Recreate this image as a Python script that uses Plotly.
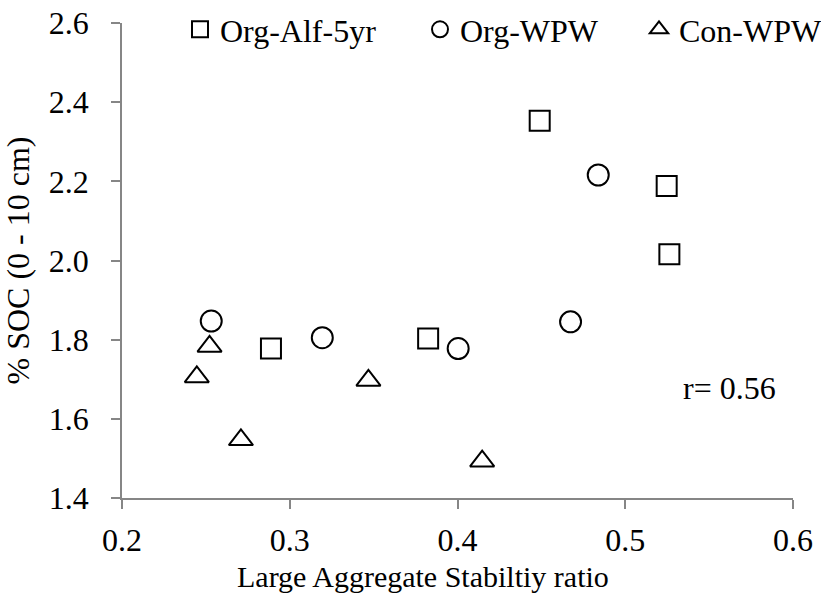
import plotly.graph_objects as go

# Data
sq_name = "Org-Alf-5yr"
sq_x = [0.449, 0.5247, 0.5263, 0.2888, 0.3825]
sq_y = [2.353, 2.188, 2.016, 1.7775, 1.803]

ci_name = "Org-WPW"
ci_x = [0.4839, 0.4674, 0.2532, 0.3194, 0.4004]
ci_y = [2.216, 1.845, 1.847, 1.805, 1.7775]

tr_name = "Con-WPW"
tr_x = [0.2522, 0.2446, 0.2709, 0.3469, 0.4147]
tr_y = [1.783, 1.706, 1.547, 1.697, 1.493]

x_ticks = [0.2, 0.3, 0.4, 0.5, 0.6]
y_ticks = [1.4, 1.6, 1.8, 2.0, 2.2, 2.4, 2.6]

x_title = "Large Aggregate Stabiltiy ratio"
y_title = "% SOC (0 - 10 cm)"
r_label = "r= 0.56"

FONT = "Liberation Serif"
FS = 32
AXC = "#868686"

fig = go.Figure()

def add(name, xs, ys, symbol, size, legend):
    fig.add_trace(go.Scatter(
        x=xs, y=ys, mode="markers", name=name, legend=legend,
        showlegend=True,
        marker=dict(symbol=symbol, size=size, color="white",
                    line=dict(color="black", width=2)),
    ))

add(sq_name, sq_x, sq_y, "square", 20, "legend")
add(ci_name, ci_x, ci_y, "circle", 21, "legend2")
add(tr_name, tr_x, tr_y, "triangle-up", 21, "legend3")

W, H = 821, 602
ml, mr, mt, mb = 122, 28, 23, 104
pw = W - ml - mr
ph = H - mt - mb

def lx(px):
    return (px - ml) / pw

def ly(py):
    return (H - mb - py) / ph

leg_common = dict(font=dict(family=FONT, size=FS, color="black"),
                  bgcolor="rgba(0,0,0,0)", borderwidth=0,
                  yanchor="top", xanchor="left", y=ly(2),
                  orientation="h", visible=True)

fig.update_layout(
    width=W, height=H,
    showlegend=True,
    margin=dict(l=ml, r=mr, t=mt, b=mb, autoexpand=False),
    paper_bgcolor="white", plot_bgcolor="white",
    font=dict(family=FONT, size=FS, color="black"),
    legend=dict(x=lx(180), **leg_common),
    legend2=dict(x=lx(420), **leg_common),
    legend3=dict(x=lx(639), **leg_common),
    xaxis=dict(range=[0.2, 0.6], tickvals=x_ticks, tickformat=".1f",
               showline=True, linecolor=AXC, linewidth=1.5,
               ticks="outside", ticklen=9, tickcolor=AXC, tickwidth=1.5,
               showgrid=False, zeroline=False, ticklabelstandoff=4,
               tickfont=dict(family=FONT, size=FS, color="black")),
    yaxis=dict(range=[1.4, 2.6], tickvals=y_ticks, tickformat=".1f",
               showline=True, linecolor=AXC, linewidth=1.5,
               ticks="outside", ticklen=9, tickcolor=AXC, tickwidth=1.5,
               showgrid=False, zeroline=False, ticklabelstandoff=16,
               tickfont=dict(family=FONT, size=FS, color="black"),
               title=dict(text=y_title, standoff=10,
                          font=dict(family=FONT, size=FS, color="black"))),
    annotations=[
        dict(text=x_title, xref="paper", yref="paper",
             x=lx(423), y=ly(595),
             xanchor="center", yanchor="bottom", showarrow=False,
             font=dict(family=FONT, size=30, color="black")),
        dict(text=r_label, xref="x", yref="y", x=0.562, y=1.677,
             xanchor="center", yanchor="middle", showarrow=False,
             font=dict(family=FONT, size=FS, color="black")),
    ],
)

fig.write_html("out.html")
